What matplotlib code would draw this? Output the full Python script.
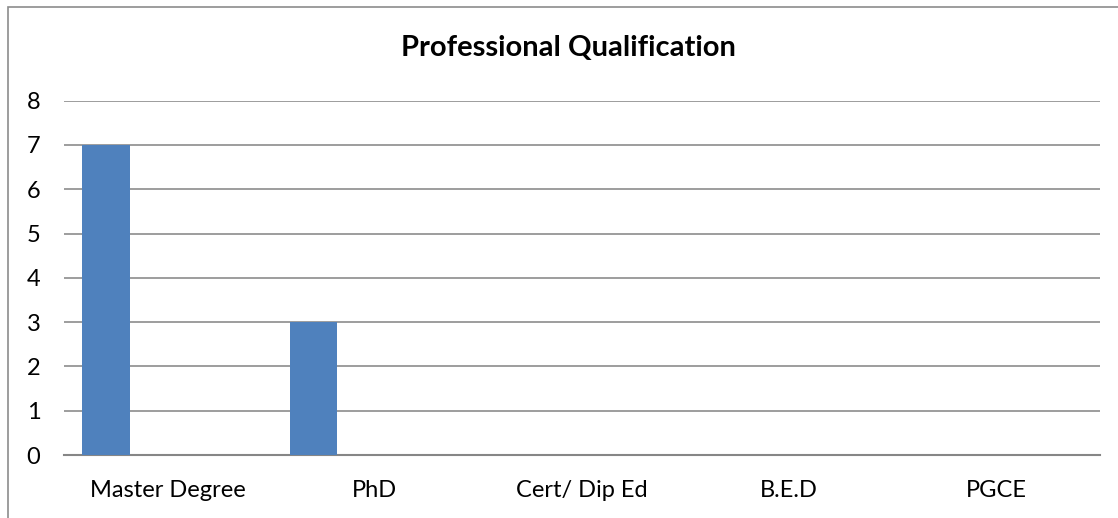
import matplotlib.pyplot as plt
from matplotlib.patches import Rectangle

# Data
categories = ['Master Degree', 'PhD', 'Cert/ Dip Ed', 'B.E.D', 'PGCE']
counts = [7, 3, 0, 0, 0]
yticks = [0, 1, 2, 3, 4, 5, 6, 7, 8]

plt.rcParams['font.family'] = ['Lato', 'DejaVu Sans']

fig = plt.figure(figsize=(11.18, 5.18), dpi=100)
ax = fig.add_axes([64 / 1118, 1 - 455 / 518, (1100 - 64) / 1118, (455 - 100.7) / 518])

# bars sit left of category centre, as in the original chart
x = [i - 0.296 for i in range(len(categories))]
ax.bar(x, counts, width=0.23, color='#4f81bd', zorder=3)

ax.set_xlim(-0.5, len(categories) - 0.5)
ax.set_ylim(0, 8)
ax.set_yticks(yticks)
ax.set_xticks(range(len(categories)))
ax.set_xticklabels(categories)
ax.tick_params(axis='both', length=0, labelsize=17)
ax.tick_params(axis='y', pad=17)
ax.tick_params(axis='x', pad=18)
ax.grid(axis='y', color='#8c8c8c', linewidth=1.2, zorder=0)

for side in ['top', 'right', 'left']:
    ax.spines[side].set_visible(False)
ax.spines['bottom'].set_color('#868686')
ax.spines['bottom'].set_linewidth(1.5)

fig.text(568 / 1118, 1 - 48 / 518, 'Professional Qualification',
         ha='center', va='center', fontsize=21, fontweight='bold')

# chart frame
fig.patches.append(Rectangle((8 / 1118, -0.1), 1.2, 1 - 7 / 518 + 0.1,
                             transform=fig.transFigure, fill=False,
                             edgecolor='#8c8c8c', linewidth=1.2))

plt.savefig('out.png')
plt.close()
